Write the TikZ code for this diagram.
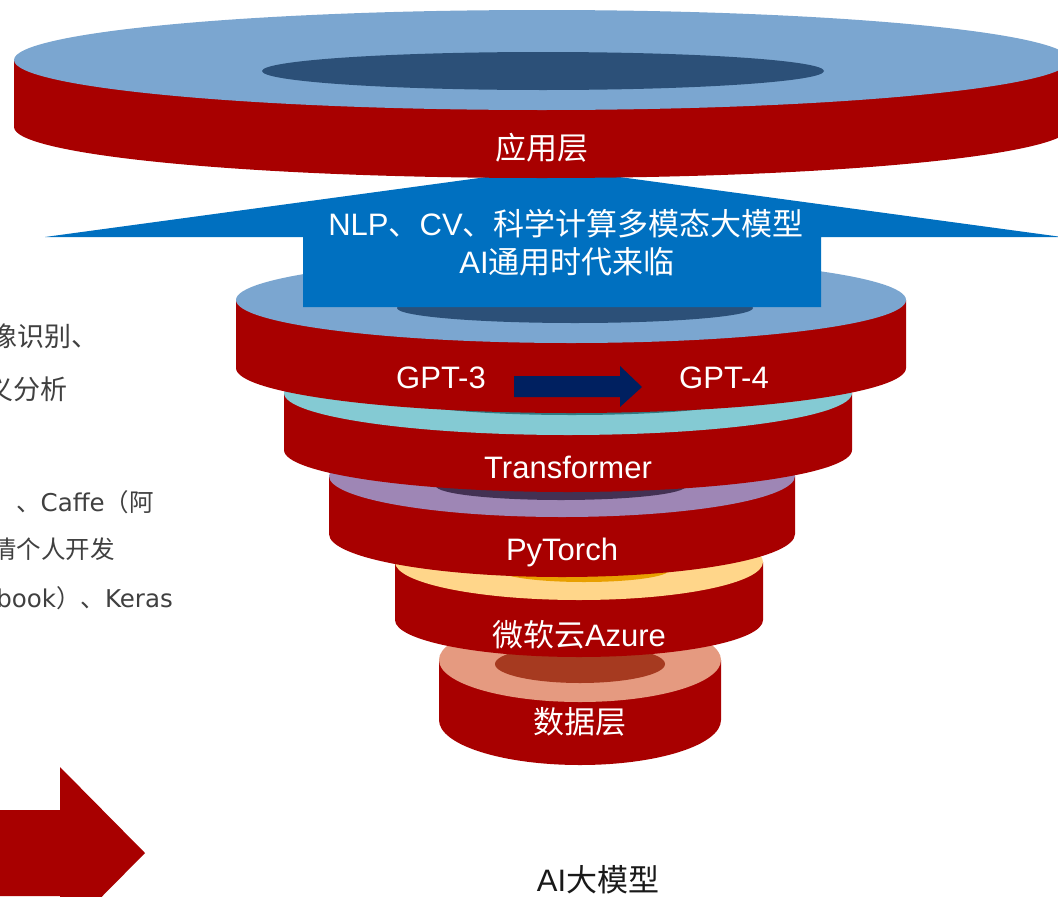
\documentclass[tikz,border=0pt]{standalone}
\usepackage{fontspec}
\setmainfont{Liberation Sans}
\newfontfamily\zhfont{Noto Sans CJK SC}
\newfontfamily\dvfont{DejaVu Sans}
\newcommand\zh[1]{{\zhfont #1}}
\definecolor{ringred}{HTML}{A80000}
\definecolor{topblue}{HTML}{7BA6D0}
\definecolor{holeblue}{HTML}{2C5078}
\definecolor{arrowblue}{HTML}{0070C0}
\definecolor{navyarrow}{HTML}{002060}
\definecolor{topteal}{HTML}{84CAD3}
\definecolor{holeteal}{HTML}{2F7A82}
\definecolor{toppurple}{HTML}{9E86B5}
\definecolor{holepurple}{HTML}{433153}
\definecolor{toporange}{HTML}{FFD68A}
\definecolor{holeorange}{HTML}{E8A000}
\definecolor{topsalmon}{HTML}{E59A80}
\definecolor{holesalmon}{HTML}{A63A20}
\definecolor{sidegray}{HTML}{404040}
\newcommand\ringlayer[7]{%
  % #1 cx, #2 rx, #3 top cy, #4 top ry, #5 bottom cy, #6 bottom ry, #7 top colour
  \fill[ringred] (#1-#2,#3) -- (#1-#2,#5)
     arc[start angle=180,end angle=360,x radius=#2pt,y radius=#6pt]
     -- (#1+#2,#3) -- cycle;
  \fill[#7] (#1,#3) ellipse [x radius=#2pt, y radius=#4pt];
}
\newcommand\ringhole[5]{%
  \fill[#5] (#1,#2) ellipse [x radius=#3pt, y radius=#4pt];
}
\begin{document}
\begin{tikzpicture}[x=1pt,y=-1pt,
  lt/.style={text=white,inner sep=0pt,font=\fontsize{31}{36}\selectfont},
  lftbig/.style={text=sidegray,inner sep=0pt,font=\dvfont\fontsize{27}{32}\selectfont},
  lftsmall/.style={text=sidegray,inner sep=0pt,font=\dvfont\fontsize{24.5}{30}\selectfont}]
\useasboundingbox (0,0) rectangle (1058,897);
\clip (0,0) rectangle (1058,897);
\fill[white] (0,0) rectangle (1058,897);

% layer 6 (data)
\ringlayer{580}{141}{660}{42}{720}{45}{topsalmon}
\ringhole{580}{664}{85}{19}{holesalmon}
% layer 5 (Azure)
\ringlayer{579}{184}{562}{38}{620}{37}{toporange}
\ringhole{584}{570}{85}{12}{holeorange}
% layer 4 (PyTorch)
\ringlayer{562}{233}{476}{41}{534}{43}{toppurple}
\ringhole{561}{486}{125}{14}{holepurple}
% layer 3 (Transformer)
\ringlayer{568}{284}{393}{42}{450}{42}{topteal}
\ringhole{572}{401}{160}{14}{holeteal}
% layer 2 (GPT)
\ringlayer{571}{335}{300}{43}{368}{45}{topblue}
\ringhole{575}{308}{178}{15}{holeblue}

% big blue up arrow
\fill[arrowblue] (553,168) -- (1062,237) -- (821,237) -- (821,307) -- (303,307)
   -- (303,237) -- (45,237) -- cycle;

% layer 1 (application)
\ringlayer{542}{528}{60}{50}{127}{51}{topblue}
\ringhole{543}{71}{281}{19}{holeblue}

% GPT-3 to GPT-4 block arrow
\fill[navyarrow] (514,376) -- (620,376) -- (620,366) -- (642,387) -- (620,407)
   -- (620,397) -- (514,397) -- cycle;

% bottom-left red block arrow
\fill[ringred] (-10,810) -- (60,810) -- (60,767) -- (145,853) -- (60,939)
   -- (60,896) -- (-10,896) -- cycle;

% layer labels
\node[lt] (app) at (542,148) {\zh{应用层}};
\node[lt] (nlp) at (566,224) {NLP\zh{、}CV\zh{、科学计算多模态大模型}};
\node[lt] (era) at (567,262) {AI\zh{通用时代来临}};
\node[lt] (g3) at (441,378) {GPT-3};
\node[lt] (g4) at (724,378) {GPT-4};
\node[lt] (tr) at (568,467) {Transformer};
\node[lt] (pt) at (562,552) {PyTorch};
\node[lt] (az) at (579,635) {\zh{微软云}Azure};
\node[lt] (data) at (580,722) {\zh{数据层}};
\node[inner sep=0pt,text=black!90,font=\fontsize{31}{36}\selectfont] (title) at (598,880) {AI\zh{大模型}};

% left side text (cut off at the page edge)
\node[lftbig,anchor=west] (l1) at (-10,336) {\zh{像识别、}};
\node[lftbig,anchor=west] (l2) at (-14,389) {\zh{义分析}};
\node[lftsmall,anchor=west] (l3) at (16,502) {\zh{、}Caffe\zh{（阿}};
\node[lftsmall,anchor=west] (l4) at (-8,549) {\zh{清个人开发}};
\node[lftsmall,anchor=east] (l5) at (173,598) {book\zh{）、}Keras};
\end{tikzpicture}
\end{document}
